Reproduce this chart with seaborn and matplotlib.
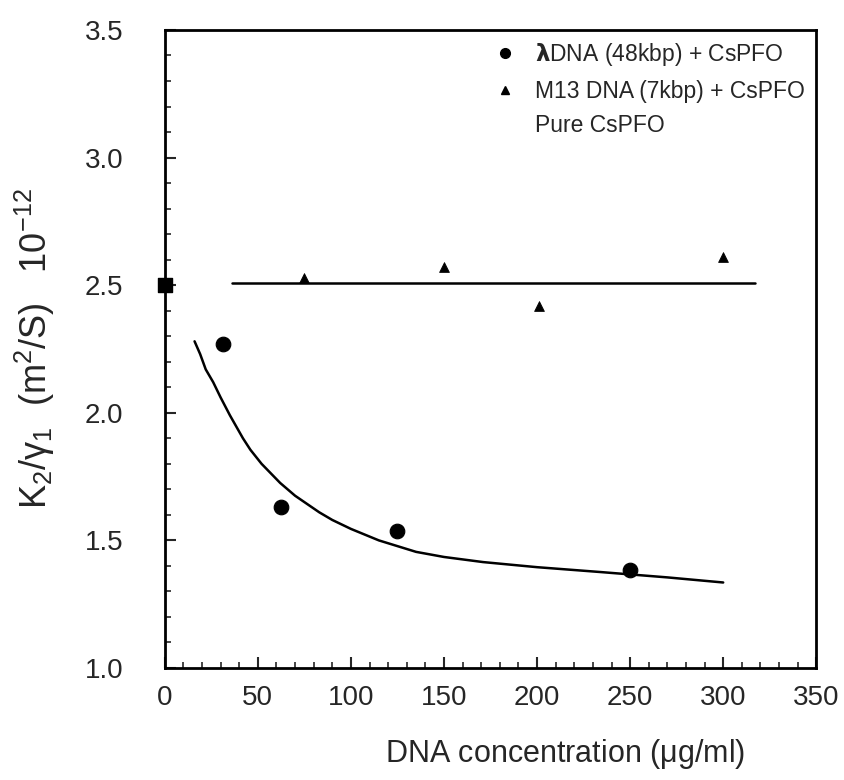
import numpy as np
import pandas as pd
import seaborn as sns
import matplotlib.pyplot as plt
from matplotlib.lines import Line2D
from matplotlib.ticker import MultipleLocator

# lambda DNA (48kbp) + CsPFO
lam_conc = [31.25, 62.5, 125, 250]
lam_k = [2.27, 1.63, 1.535, 1.385]

# M13 DNA (7kbp) + CsPFO
m13_conc = [75, 150, 201, 300]
m13_k = [2.53, 2.57, 2.42, 2.61]

# pure CsPFO
pure_conc = [0]
pure_k = [2.5]

# fitted curve through the lambda DNA points
fit_conc = [16, 19, 22, 26, 30, 35, 42, 46, 52, 62, 70, 83, 90, 100,
            115, 135, 150, 171, 200, 234, 270, 300]
fit_k = [2.28, 2.23, 2.17, 2.12, 2.06, 1.99, 1.90, 1.855, 1.80, 1.725, 1.675,
         1.61, 1.58, 1.545, 1.50, 1.455, 1.435, 1.415, 1.395, 1.376, 1.355, 1.335]

# flat line for M13 DNA
m13_line_conc = [36, 317]
m13_line_k = [2.507, 2.507]

sns.set_style('white')
sns.set_style('ticks')
plt.rcParams['font.family'] = ['Liberation Sans', 'DejaVu Sans']
plt.rcParams['mathtext.default'] = 'regular'

fig = plt.figure(figsize=(8.45, 7.8), dpi=100)
ax = fig.add_axes([0.195, 0.1436, 0.771, 0.818])

lam = pd.DataFrame(dict(conc=lam_conc, k=lam_k))
m13 = pd.DataFrame(dict(conc=m13_conc, k=m13_k))
fit = pd.DataFrame(dict(conc=fit_conc, k=fit_k))
flat = pd.DataFrame(dict(conc=m13_line_conc, k=m13_line_k))

sns.lineplot(data=fit, x='conc', y='k', color='black', lw=1.8, sort=False, ax=ax)
sns.lineplot(data=flat, x='conc', y='k', color='black', lw=1.8, sort=False, ax=ax)
sns.scatterplot(data=lam, x='conc', y='k', color='black', marker='o', s=110,
                edgecolor='black', ax=ax, zorder=3)
sns.scatterplot(data=m13, x='conc', y='k', color='black', marker='^', s=50,
                edgecolor='black', ax=ax, zorder=3)
ax.scatter(pure_conc, pure_k, color='black', marker='s', s=110, clip_on=False, zorder=4)

ax.set_xlim(0, 350)
ax.set_ylim(1.0, 3.5)
ax.xaxis.set_major_locator(MultipleLocator(50))
ax.xaxis.set_minor_locator(MultipleLocator(10))
ax.yaxis.set_major_locator(MultipleLocator(0.5))
ax.yaxis.set_minor_locator(MultipleLocator(0.1))
ax.yaxis.set_major_formatter(plt.FuncFormatter(lambda v, p: f'{v:.1f}'))
ax.tick_params(which='major', direction='in', length=8, width=1.5,
               labelsize=20, pad=12)
ax.tick_params(which='minor', direction='in', length=4, width=1.2)
ax.tick_params(axis='y', which='major', pad=30)
for sp in ax.spines.values():
    sp.set_linewidth(2)
    sp.set_color('black')

ax.set_xlabel('DNA concentration ($\\mu$g/ml)', fontsize=22)
ax.xaxis.set_label_coords(0.614, -0.108)
ax.set_ylabel('$K_2/\\gamma_1$  (m$^2$/S)   10$^{-12}$', fontsize=26, labelpad=20)

handles = [
    Line2D([], [], ls='none', marker='o', color='black', ms=7),
    Line2D([], [], ls='none', marker='^', color='black', ms=6),
    Line2D([], [], ls='none', marker='', color='black'),
]
labels = ['$\\mathbf{\\lambda}$DNA (48kbp) + CsPFO',
          'M13 DNA (7kbp) + CsPFO',
          'Pure CsPFO']
ax.legend(handles, labels, loc='upper right', frameon=False, fontsize=16.5,
          handletextpad=0.7, labelspacing=0.5, borderaxespad=0.1,
          handlelength=1.2)

fig.savefig('out.png', dpi=100)
